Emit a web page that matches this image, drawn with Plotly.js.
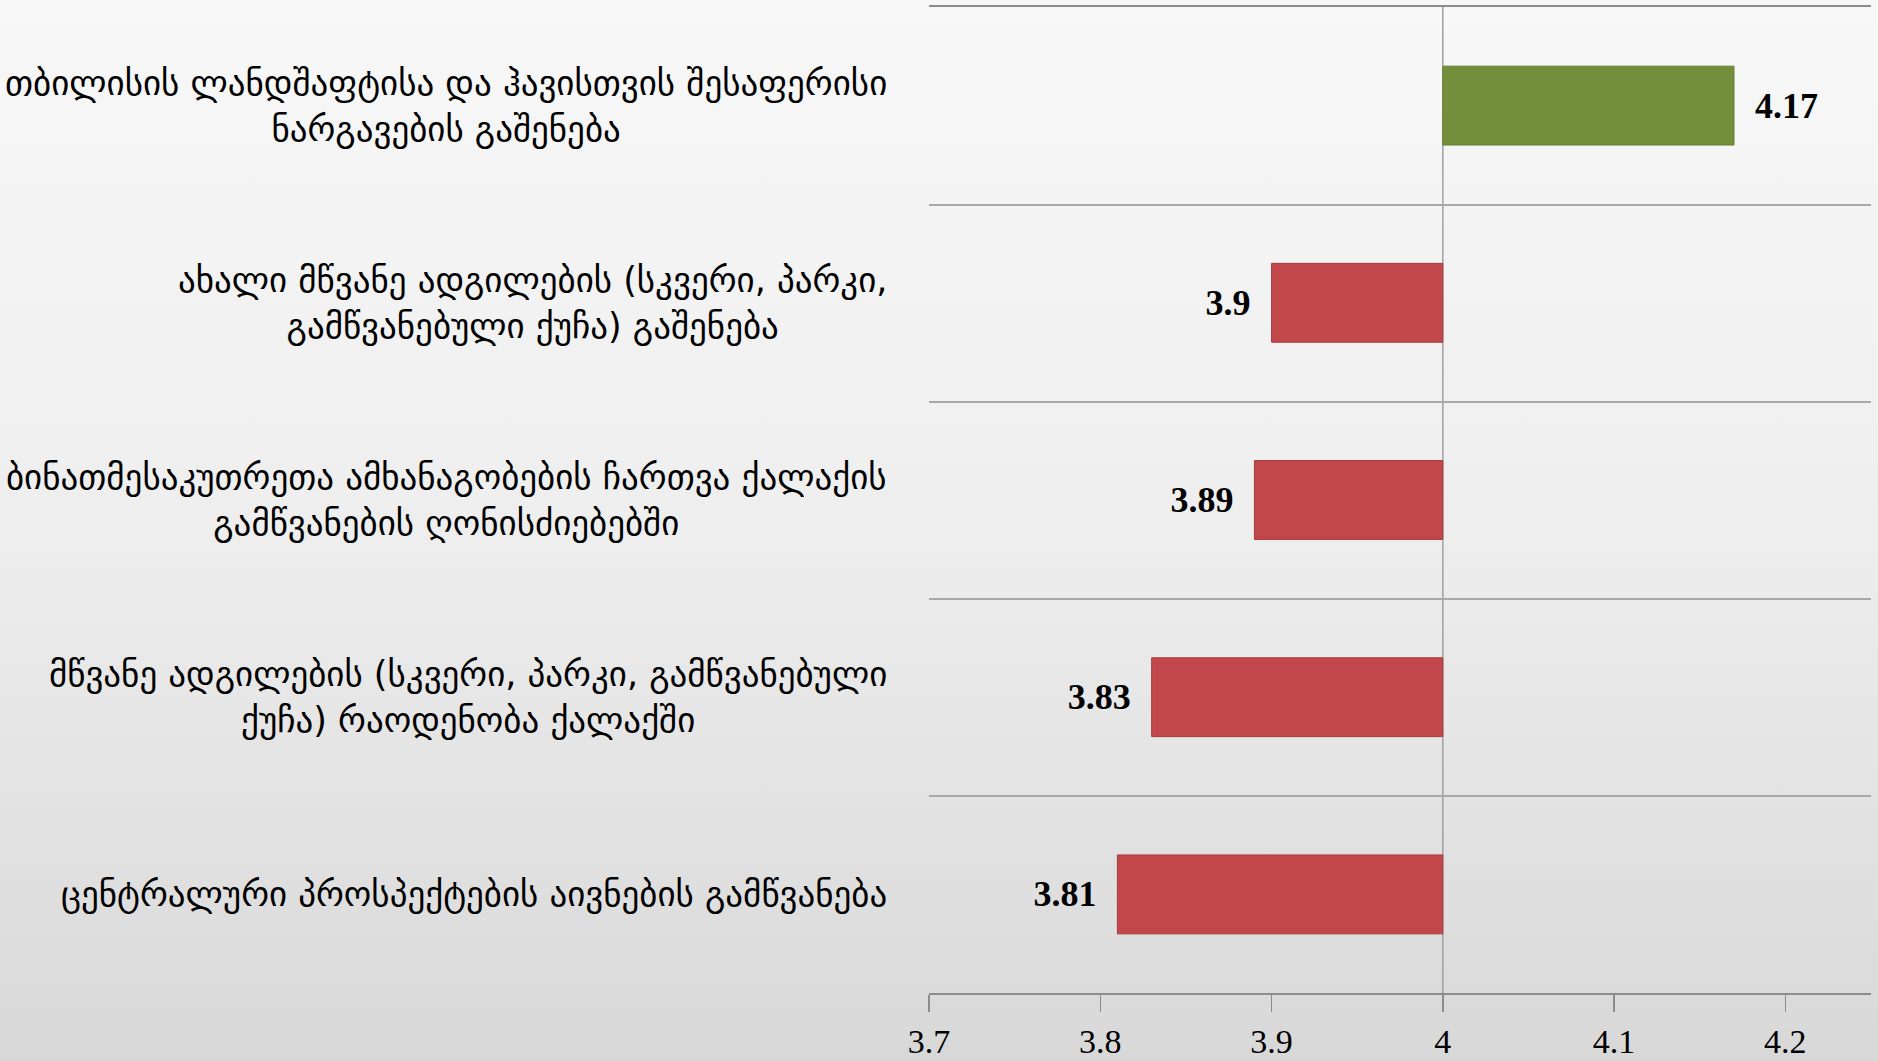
<!DOCTYPE html>
<html>
<head>
<meta charset="utf-8">
<script src="https://cdn.plot.ly/plotly-3.0.1.min.js"></script>
<style>
html,body{margin:0;padding:0;}
body{width:1878px;height:1061px;background:linear-gradient(to bottom,#f8f8f8 0%,#eeeeee 50%,#d8d8d8 100%);}
#chart{width:1878px;height:1061px;}
</style>
</head>
<body>
<div id="chart"></div>
<script>
// Data
const categories = [
  "თბილისის ლანდშაფტისა და ჰავისთვის შესაფერისი<br>ნარგავების გაშენება",
  "ახალი მწვანე ადგილების (სკვერი, პარკი,<br>გამწვანებული ქუჩა) გაშენება",
  "ბინათმესაკუთრეთა ამხანაგობების ჩართვა ქალაქის<br>გამწვანების ღონისძიებებში",
  "მწვანე ადგილების (სკვერი, პარკი, გამწვანებული<br>ქუჩა) რაოდენობა ქალაქში",
  "ცენტრალური პროსპექტების აივნების გამწვანება"
];
const values = [4.17, 3.9, 3.89, 3.83, 3.81];
const baseValue = 4;
const xTickVals = [3.7, 3.8, 3.9, 4, 4.1, 4.2];
const xTickText = ["3.7", "3.8", "3.9", "4", "4.1", "4.2"];

const barColors = values.map(v => v >= baseValue ? "#738f3c" : "#c2474a");
const lineColors = values.map(v => v >= baseValue ? "#63802f" : "#a53c3c");

const ids = categories.map((c, i) => "c" + i);

const trace = {
  type: "bar",
  orientation: "h",
  y: ids,
  x: values.map(v => v - baseValue),
  base: values.map(() => baseValue),
  text: values.map(v => String(v)),
  texttemplate: values.map(v => v >= baseValue ? "\u2002%{text}" : "%{text}\u2002"),
  textposition: "outside",
  cliponaxis: false,
  textfont: {family: "Liberation Serif, serif", size: 36, color: "#000000", weight: "bold"},
  marker: {color: barColors, line: {color: lineColors, width: 1}},
  hoverinfo: "none",
  showlegend: false
};

// helper trace on second y axis to draw category boundary gridlines
const gridTrace = {
  type: "scatter", mode: "markers", x: [baseValue], y: [0],
  yaxis: "y2", marker: {opacity: 0}, hoverinfo: "none", showlegend: false
};

const annotations = categories.map((c, i) => ({
  xref: "paper", yref: "y", x: 0, y: ids[i],
  xanchor: "right", yanchor: "middle", xshift: -40,
  align: "center", showarrow: false, text: c,
  font: {family: "DejaVu Sans, sans-serif", size: 35, color: "#000000"}
}));

const layout = {
  width: 1878, height: 1061,
  margin: {l: 929, r: 7, t: 7, b: 68, pad: 0},
  paper_bgcolor: "rgba(0,0,0,0)",
  plot_bgcolor: "rgba(0,0,0,0)",
  bargap: 0.6,
  xaxis: {
    range: [3.7, 4.25], tickvals: xTickVals, ticktext: xTickText,
    showgrid: false, zeroline: false,
    showline: true, mirror: true, linecolor: "#8c8c8c", linewidth: 2,
    ticks: "outside", ticklen: 17, tickcolor: "#8c8c8c", tickwidth: 1.5,
    tickfont: {family: "Liberation Serif, serif", size: 34, color: "#000000"},
    fixedrange: true
  },
  yaxis: {
    type: "category", autorange: "reversed",
    showticklabels: false, showgrid: false, zeroline: false, showline: false,
    ticks: "", fixedrange: true
  },
  yaxis2: {
    overlaying: "y", side: "left", range: [4.5, -0.504],
    tick0: -0.5, dtick: 1, showgrid: true, gridcolor: "#a8a8a8", gridwidth: 1.5,
    showticklabels: false, zeroline: false, showline: false, ticks: "", fixedrange: true
  },
  shapes: [{
    type: "line", xref: "x", yref: "paper", x0: baseValue, x1: baseValue, y0: 0, y1: 1,
    line: {color: "#a0a0a0", width: 1.5}, layer: "below"
  }],
  annotations: annotations
};

Plotly.newPlot("chart", [gridTrace, trace], layout, {displayModeBar: false, staticPlot: true});
</script>
</body>
</html>
